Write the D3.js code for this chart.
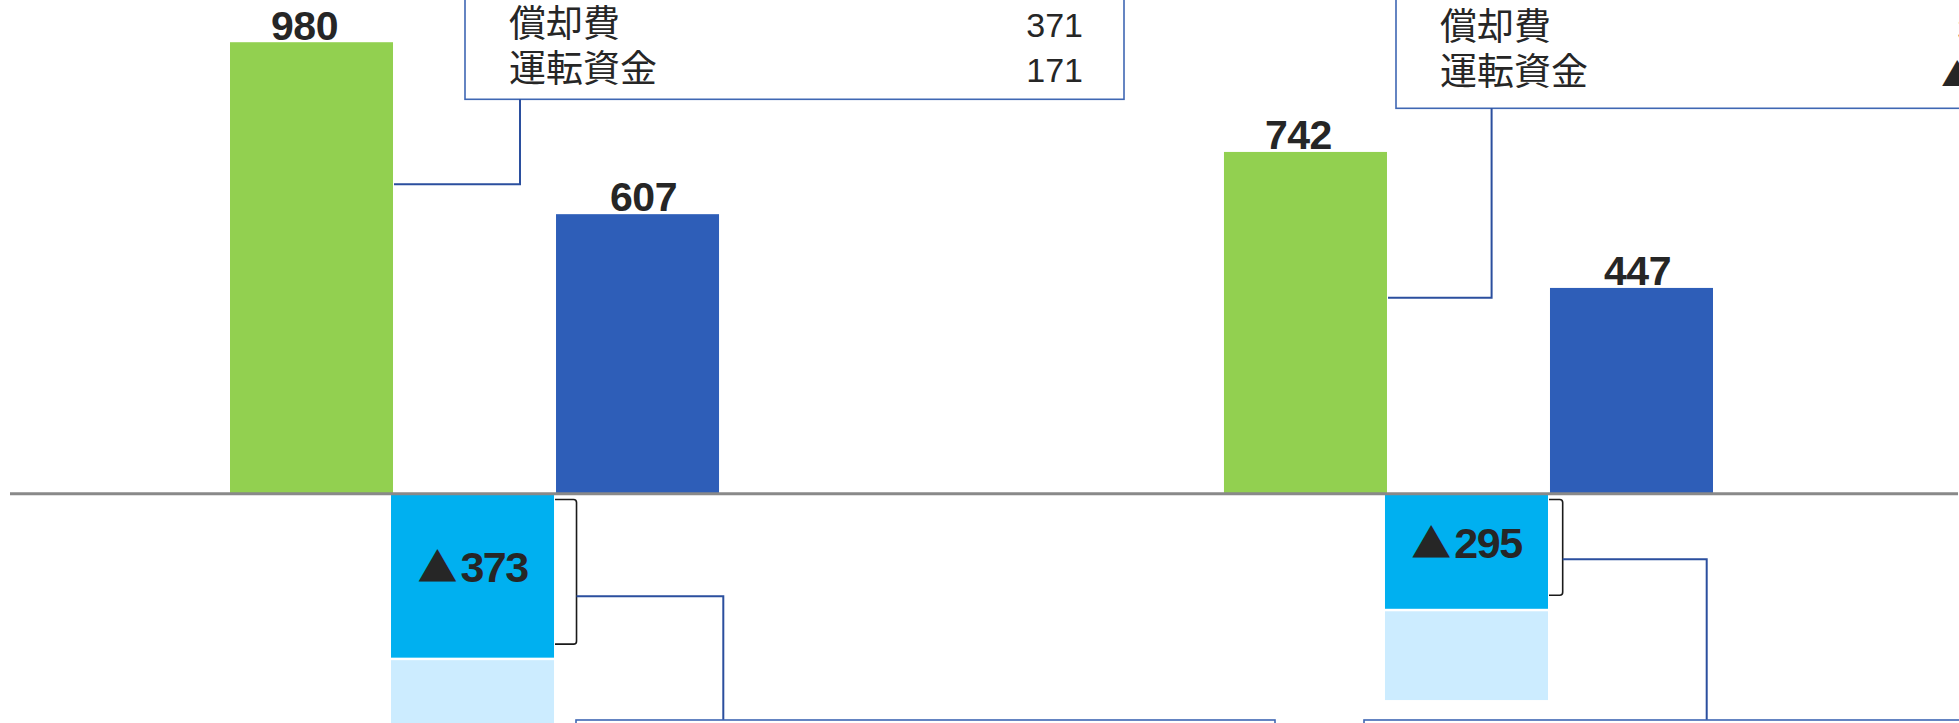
<!DOCTYPE html>
<html>
<head>
<meta charset="utf-8">
<script src="https://cdn.jsdelivr.net/npm/d3@7"></script>
<style>
  html, body { margin: 0; padding: 0; background: #ffffff; overflow: hidden; }
  svg { display: block; }
</style>
</head>
<body>
<svg id="chart" width="1959" height="723"></svg>
<script>
// ---------------- data ----------------
const periods = ["前期", "当期"];
const operatingCF = [980, 742];        // 営業CF (green)
const investingCF = [-373, -295];      // 投資CF (label in cyan block)
const freeCF = [607, 447];             // FCF (blue)
const investBlockDepth = [-355, -249]; // extent of the dark cyan block
const investLowerDepth = [-607, -447]; // extent of the light cyan block
const boxItems = ["償却費", "運転資金"];
const depreciation = [371, 352];
const workingCapital = [171, -46];

// ---------------- setup ----------------
const svg = d3.select("#chart");
const INK = "#262626";
const C_GREEN = "#92D050", C_BLUE = "#2E5EB8", C_CYAN = "#00B0F0", C_LCYAN = "#CCECFF";
const C_LINE = "#2B4F9E", C_BOX = "#3F67B3";
const NUM_FONT = "'Liberation Sans', Arial, sans-serif";
const JP_FONT = "'Noto Sans CJK JP', 'Noto Sans', sans-serif";

const y = d3.scaleLinear().domain([0, 1000]).range([494, 33]);
const outer = d3.scaleBand().domain(periods).range([230, 1713]).paddingInner(0.508).paddingOuter(0);
const inner = d3.scaleBand().domain(["op", "inv", "fcf"]).range([0, outer.bandwidth()]);

// write a number; negatives get a ▲ prefix drawn in the Japanese font
function writeNum(sel, v, triSize, spacing) {
  sel.text(null);
  const neg = v < 0;
  if (neg) {
    sel.append("tspan").attr("font-family", JP_FONT).attr("font-size", triSize).text("▲");
  }
  sel.append("tspan").attr("dx", neg ? 3 : 0).attr("letter-spacing", spacing || 0).text(Math.abs(v));
}

const rows = periods.map((p, i) => ({
  p, i, op: operatingCF[i], inv: investingCF[i], fcf: freeCF[i],
  invBlock: investBlockDepth[i], invLower: investLowerDepth[i]
}));

const gBars = svg.append("g");

gBars.selectAll("rect.op").data(rows).join("rect").attr("class", "op")
  .attr("x", d => outer(d.p) + inner("op")).attr("width", inner.bandwidth())
  .attr("y", d => y(d.op)).attr("height", d => y(0) - y(d.op))
  .attr("fill", C_GREEN);

gBars.selectAll("rect.fcf").data(rows).join("rect").attr("class", "fcf")
  .attr("x", d => outer(d.p) + inner("fcf")).attr("width", inner.bandwidth())
  .attr("y", d => y(d.fcf)).attr("height", d => y(0) - y(d.fcf))
  .attr("fill", C_BLUE);

gBars.selectAll("rect.invL").data(rows).join("rect").attr("class", "invL")
  .attr("x", d => outer(d.p) + inner("inv") - 2).attr("width", inner.bandwidth())
  .attr("y", d => y(d.invBlock) + 2.5).attr("height", d => y(d.invLower) - y(d.invBlock) - 2.5)
  .attr("fill", C_LCYAN);

gBars.selectAll("rect.inv").data(rows).join("rect").attr("class", "inv")
  .attr("x", d => outer(d.p) + inner("inv") - 2).attr("width", inner.bandwidth())
  .attr("y", y(0)).attr("height", d => y(d.invBlock) - y(0))
  .attr("fill", C_CYAN);

svg.append("line").attr("x1", 10).attr("x2", 1958)
  .attr("y1", y(0) - 0.2).attr("y2", y(0) - 0.2)
  .attr("stroke", "#898989").attr("stroke-width", 3);

const gLab = svg.append("g").attr("font-family", NUM_FONT).attr("font-weight", "bold").attr("fill", INK);
gLab.selectAll("text.op").data(rows).join("text").attr("class", "op")
  .attr("x", d => outer(d.p) + inner("op") + inner.bandwidth() / 2 - 7)
  .attr("y", d => y(d.op) - 2.5).attr("text-anchor", "middle")
  .attr("font-size", 41).each(function (d) { writeNum(d3.select(this), d.op, 41, -0.5); });
gLab.selectAll("text.fcf").data(rows).join("text").attr("class", "fcf")
  .attr("x", d => outer(d.p) + inner("fcf") + inner.bandwidth() / 2 + 6)
  .attr("y", d => y(d.fcf) - 3).attr("text-anchor", "middle")
  .attr("font-size", 41).each(function (d) { writeNum(d3.select(this), d.fcf, 41, -0.5); });
gLab.selectAll("text.inv").data(rows).join("text").attr("class", "inv")
  .attr("x", d => outer(d.p) + inner("inv") - 2 + inner.bandwidth() / 2)
  .attr("y", d => (y(0) + y(d.invBlock)) / 2 + 6.5).attr("text-anchor", "middle")
  .attr("font-size", 43).each(function (d) { writeNum(d3.select(this), d.inv, 40, -1.5); });

// ---------------- callouts ----------------
const topBoxes = [
  { x: 465, bottom: 99.3, w: 659, stemX: 520, elbowY: 184.3, base1: 36.5, base2: 81.5 },
  { x: 1396, bottom: 108.3, w: 659, stemX: 1491.6, elbowY: 297.7, base1: 40, base2: 85 }
];
const gAnn = svg.append("g");
topBoxes.forEach((b, i) => {
  const d = rows[i];
  gAnn.append("rect").attr("x", b.x).attr("y", -60).attr("width", b.w).attr("height", b.bottom + 60)
    .attr("fill", "#fff").attr("stroke", C_BOX).attr("stroke-width", 1.6);
  const greenRight = outer(d.p) + inner("op") + inner.bandwidth();
  gAnn.append("path")
    .attr("d", `M${b.stemX},${b.bottom} V${b.elbowY} H${greenRight + 1}`)
    .attr("fill", "none").attr("stroke", C_LINE).attr("stroke-width", 2);
  const vals = [depreciation[i], workingCapital[i]];
  const bases = [b.base1, b.base2];
  boxItems.forEach((lab, k) => {
    gAnn.append("text").attr("x", b.x + 44).attr("y", bases[k])
      .attr("font-family", JP_FONT).attr("font-size", 37).attr("fill", INK).text(lab);
    gAnn.append("text").attr("x", b.x + 618).attr("y", bases[k] + 0.5)
      .attr("text-anchor", "end").attr("font-family", NUM_FONT).attr("font-size", 34)
      .attr("fill", INK).each(function () { writeNum(d3.select(this), vals[k], 32, 0); });
  });
});

const bottomBoxes = [
  { x: 576, arm: 21.5, elbowY: 596.3, dropX: 723.3 },
  { x: 1364, arm: 13.7, elbowY: 559.3, dropX: 1706.7 }
];
bottomBoxes.forEach((b, i) => {
  const d = rows[i];
  const x0 = outer(d.p) + inner("inv") - 2 + inner.bandwidth() + 1;
  const x1 = x0 + b.arm;
  const y0 = y(0) + 5.5, y1 = y(d.invBlock) - 13.5, r = 3;
  gAnn.append("path")
    .attr("d", `M${x0},${y0} H${x1 - r} Q${x1},${y0} ${x1},${y0 + r} V${y1 - r} Q${x1},${y1} ${x1 - r},${y1} H${x0}`)
    .attr("fill", "none").attr("stroke", "#1a1a1a").attr("stroke-width", 1.6);
  gAnn.append("path")
    .attr("d", `M${x1},${b.elbowY} H${b.dropX} V720`)
    .attr("fill", "none").attr("stroke", C_LINE).attr("stroke-width", 2);
  gAnn.append("rect").attr("x", b.x).attr("y", 720).attr("width", 699).attr("height", 120)
    .attr("fill", "#fff").attr("stroke", C_BOX).attr("stroke-width", 1.6);
});
</script>
</body>
</html>
